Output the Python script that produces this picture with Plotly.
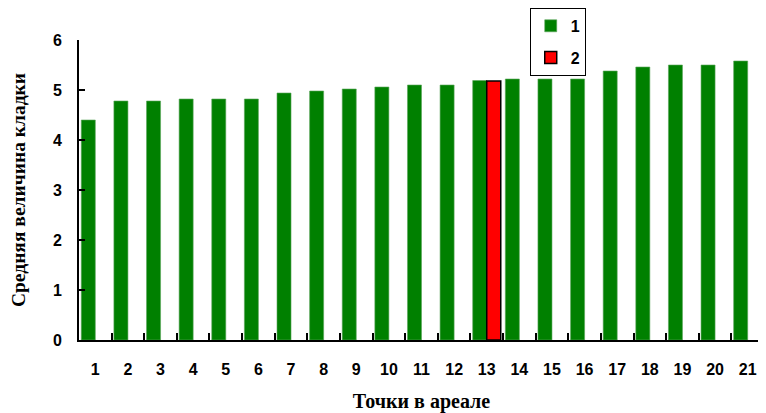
import plotly.graph_objects as go

categories = [str(i) for i in range(1, 22)]
series1 = [4.4, 4.78, 4.78, 4.82, 4.82, 4.82, 4.94, 4.98, 5.02, 5.06, 5.1, 5.1,
           5.19, 5.22, 5.22, 5.22, 5.38, 5.46, 5.5, 5.5, 5.58]
series2 = [None] * 12 + [5.18] + [None] * 8
y_ticks = [0, 1, 2, 3, 4, 5, 6]

fig = go.Figure()
fig.add_trace(go.Bar(x=categories, y=series1, name="1", legendgroup="a",
                     marker=dict(color="#008000", line=dict(color="#5aa55a", width=0.6))))
fig.add_trace(go.Bar(x=categories, y=series2, name="2", legendgroup="b",
                     marker=dict(color="#ff0000", line=dict(color="#000000", width=1.5))))

tickfont = dict(family="Liberation Sans, Arial", size=16, color="black", weight="bold")
ytitlefont = dict(family="Liberation Serif, Times New Roman", size=19.5, color="black", weight="bold")
xtitlefont = dict(family="Liberation Serif, Times New Roman", size=20, color="black", weight="bold")

fig.update_layout(
    width=758, height=405,
    margin=dict(l=71, r=2, t=32, b=73, autoexpand=False),
    plot_bgcolor="white", paper_bgcolor="white",
    barmode="group", bargap=0.14, bargroupgap=0,
    showlegend=True,
    legend=dict(x=0.658, y=1.107, xanchor="left", yanchor="top",
                bordercolor="black", borderwidth=1, bgcolor="white",
                font=dict(family="Liberation Sans, Arial", size=16, color="black", weight="bold"),
                traceorder="grouped", tracegroupgap=8, itemwidth=30),
    xaxis=dict(type="category", showline=True, linecolor="black", linewidth=2,
               ticks="inside", ticklen=7, tickcolor="black", tickwidth=1.5,
               tickson="boundaries", tickfont=tickfont, ticklabelstandoff=14,
               automargin=False,
               title=dict(text="Точки в ареале", font=xtitlefont, standoff=20),
               showgrid=False, zeroline=False),
    yaxis=dict(range=[0, 6], tickvals=y_ticks, showline=True, linecolor="black", linewidth=2,
               ticks="inside", ticklen=6, tickcolor="black", tickwidth=1.5,
               tickfont=tickfont, ticklabelstandoff=12, automargin=False,
               title=dict(text="Средняя величина кладки", font=ytitlefont, standoff=24),
               showgrid=False, zeroline=False),
)

fig.write_html("out.html")
